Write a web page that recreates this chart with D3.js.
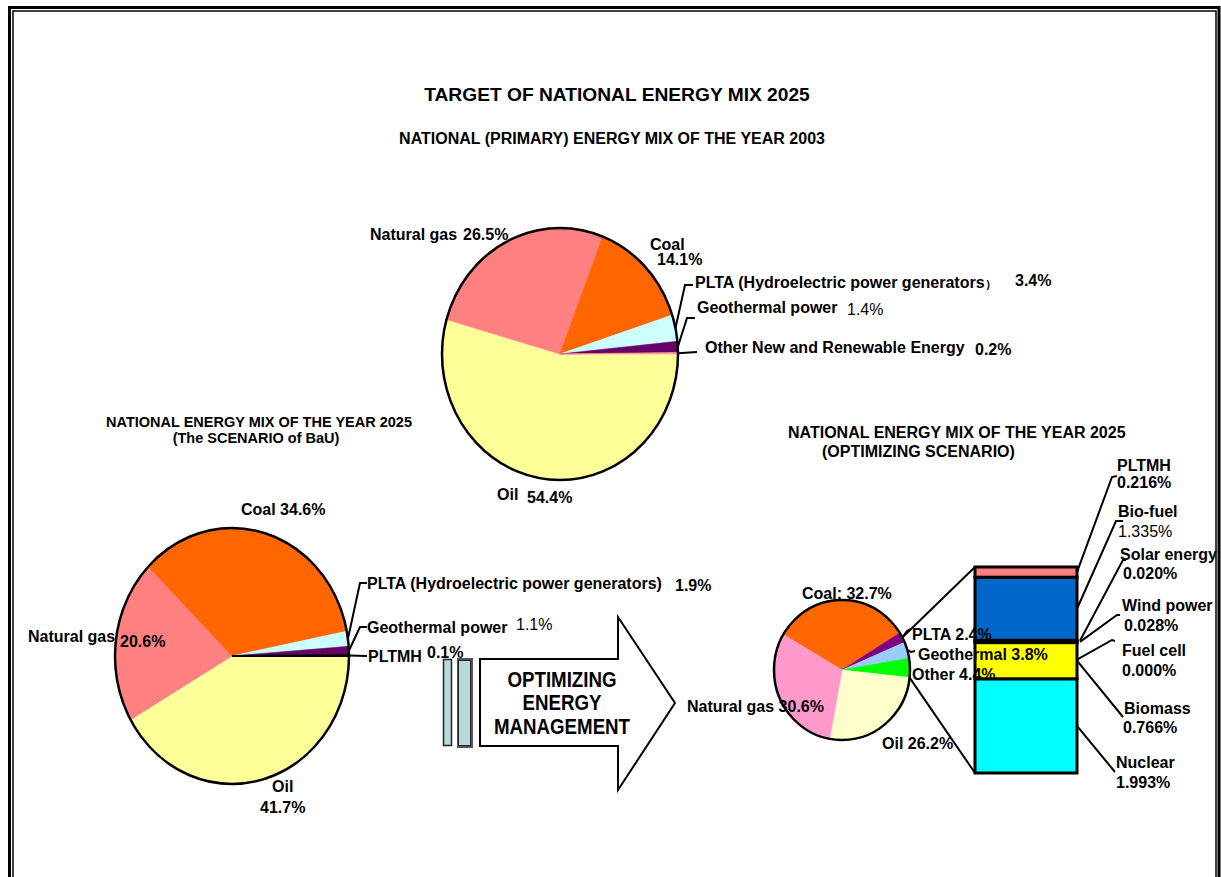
<!DOCTYPE html>
<html>
<head>
<meta charset="utf-8">
<script src="https://cdn.jsdelivr.net/npm/d3@7"></script>
<style>
body { margin: 0; background: #fff; }
text { font-family: "Liberation Sans", Arial, sans-serif; fill: #000; }
</style>
</head>
<body>
<script>
// ---- data ----
var mainTitle = "TARGET OF NATIONAL ENERGY MIX 2025";
var title2003 = ["NATIONAL (PRIMARY) ENERGY MIX OF THE YEAR 2003"];
var titleBaU = ["NATIONAL ENERGY MIX OF THE YEAR 2025", "(The SCENARIO of BaU)"];
var titleOpt = ["NATIONAL ENERGY MIX OF THE YEAR 2025", "(OPTIMIZING SCENARIO)"];
var arrowText = ["OPTIMIZING", "ENERGY", "MANAGEMENT"];

// 2003 mix, clockwise from 3 o'clock
var mix2003Names = ["Oil", "Natural gas", "Coal", "PLTA (Hydroelectric power generators)", "Geothermal power", "Other New and Renewable Energy"];
var mix2003Values = [54.4, 26.5, 14.1, 3.4, 1.4, 0.2];
var mix2003Colors = ["#ffff99", "#ff8080", "#ff6600", "#ccffff", "#660066", "#ff9999"];

// 2025 BaU
var bauNames = ["Oil", "Natural gas", "Coal", "PLTA (Hydroelectric power generators)", "Geothermal power", "PLTMH"];
var bauValues = [41.7, 20.6, 34.6, 1.9, 1.1, 0.1];
var bauColors = ["#ffff99", "#ff8080", "#ff6600", "#ccffff", "#660066", "#000000"];

// 2025 optimizing scenario
var optNames = ["Coal", "PLTA", "Geothermal", "Other", "Oil", "Natural gas"];
var optValues = [32.7, 2.4, 3.8, 4.4, 26.2, 30.6];
var optColors = ["#ff6600", "#800080", "#99ccff", "#00ff00", "#ffffcc", "#ff99cc"];

// breakdown of "Other", bottom to top
var otherNames = ["Nuclear", "Biomass", "Fuel cell", "Wind power", "Solar energy", "Bio-fuel", "PLTMH"];
var otherValues = [1.993, 0.766, 0.000, 0.028, 0.020, 1.335, 0.216];
var otherColors = ["#00ffff", "#ffff00", "#ffffff", "#ffffff", "#ffffff", "#0066cc", "#ff8080"];

// ---- drawing ----
var svg = d3.select("body").append("svg").attr("width", 1221).attr("height", 877);
var fmt1 = function (v) { return v.toFixed(1) + "%"; };
var fmt3 = function (v) { return v.toFixed(3) + "%"; };

function addText(x, y, str, o) {
    o = o || {};
    return svg.append("text")
        .attr("transform", "translate(" + x + "," + y + ")" + (o.sx ? " scale(" + o.sx + ",1)" : ""))
        .attr("text-anchor", o.anchor || "start")
        .style("font-size", (o.size || 16) + "px")
        .style("font-weight", o.normal ? "normal" : "bold")
        .text(str);
}

function leader(pts) {
    svg.append("path")
        .attr("d", d3.line()(pts))
        .attr("fill", "none")
        .attr("stroke", "#000")
        .attr("stroke-width", 2);
}

// frame (double border)
svg.append("path").attr("d", "M9.5,880 V7.5 H1219 V880")
    .attr("fill", "none").attr("stroke", "#000").attr("stroke-width", 3);
svg.append("path").attr("d", "M13,880 V11 H1216 V880")
    .attr("fill", "none").attr("stroke", "#000").attr("stroke-width", 1.5);

// titles
addText(617, 101, mainTitle, { anchor: "middle", size: 19.2 });
addText(612, 144, title2003[0], { anchor: "middle", size: 16 });
addText(259, 427, titleBaU[0], { anchor: "middle", size: 14.5 });
addText(256, 443, titleBaU[1], { anchor: "middle", size: 14.5 });
addText(788, 438, titleOpt[0], { size: 16 });
addText(822, 457, titleOpt[1], { size: 16 });

function drawPie(cfg) {
    var g = svg.append("g")
        .attr("transform", "translate(" + cfg.cx + "," + cfg.cy + ") scale(1," + (cfg.ry / cfg.rx) + ")");
    var arcs = d3.pie().sort(null)
        .startAngle(cfg.start).endAngle(cfg.start + 2 * Math.PI)(cfg.values);
    var arc = d3.arc().innerRadius(0).outerRadius(cfg.rx);
    g.selectAll("path.slice")
        .data(arcs)
        .enter()
        .append("path")
        .attr("class", "slice")
        .attr("d", arc)
        .attr("fill", function (d, i) { return cfg.colors[i]; })
        .attr("stroke", function (d, i) { return cfg.colors[i]; })
        .attr("stroke-width", function (d, i) { return cfg.colors[i] === "#000000" ? 2 : 0.6; })
        .attr("vector-effect", "non-scaling-stroke");
    g.append("circle")
        .attr("r", cfg.rx)
        .attr("fill", "none")
        .attr("stroke", "#000")
        .attr("stroke-width", 2.5)
        .attr("vector-effect", "non-scaling-stroke");
    cfg.arcs = arcs;
    cfg.edge = function (a) {
        return [cfg.cx + cfg.rx * Math.sin(a), cfg.cy - cfg.ry * Math.cos(a)];
    };
    cfg.mid = function (i) { return cfg.edge((arcs[i].startAngle + arcs[i].endAngle) / 2); };
    return cfg;
}

function pieLabels(cfg, names, values, layout) {
    layout.forEach(function (l, i) {
        if (l.line) leader([cfg.mid(i)].concat(l.line));
        if (l.sep) {
            addText(l.n[0], l.n[1], names[i] + l.sep + fmt1(values[i]));
            return;
        }
        if (l.smallParen) {
            var t = addText(l.n[0], l.n[1], names[i].slice(0, -1));
            t.append("tspan").style("font-size", "10px").attr("dx", 2).text(")");
        } else {
            addText(l.n[0], l.n[1], names[i]);
        }
        addText(l.v[0], l.v[1], fmt1(values[i]), { normal: l.normal });
    });
}

// 2003 pie
var pie2003 = drawPie({ cx: 560, cy: 354, rx: 118, ry: 126, start: Math.PI / 2,
    values: mix2003Values, colors: mix2003Colors });
pieLabels(pie2003, mix2003Names, mix2003Values, [
    { n: [497, 500], v: [527, 503] },
    { n: [370, 240], v: [463, 240] },
    { n: [650, 250], v: [657, 265] },
    { n: [695, 288], v: [1015, 286], smallParen: true, line: [[685, 285], [693, 285]] },
    { n: [697, 313], v: [847, 315], normal: true, line: [[687, 318], [695, 318]] },
    { n: [705, 353], v: [975, 355], line: [[697, 352]] }
]);

// BaU pie
var pieBaU = drawPie({ cx: 232, cy: 656, rx: 117, ry: 128, start: Math.PI / 2,
    values: bauValues, colors: bauColors });
pieLabels(pieBaU, bauNames, bauValues, [
    { n: [272, 792], v: [260, 813] },
    { n: [28, 642], v: [120, 647] },
    { n: [241, 515], sep: " " },
    { n: [367, 589], v: [675, 591], line: [[360, 583], [367, 583]] },
    { n: [367, 633], v: [516, 630], normal: true, line: [[360, 627], [367, 627]] },
    { n: [368, 662], v: [427, 658], line: [[367, 656]] }
]);

// small bars + arrow
var barFill = "#b9d8da";
svg.append("rect").attr("x", 443.5).attr("y", 659.5).attr("width", 8).attr("height", 86)
    .attr("fill", barFill).attr("stroke", "#222").attr("stroke-width", 1.5);
svg.append("rect").attr("x", 457).attr("y", 658).attr("width", 16).attr("height", 90)
    .attr("fill", "#555");
svg.append("rect").attr("x", 458.5).attr("y", 660.5).attr("width", 12).attr("height", 85)
    .attr("fill", barFill).attr("stroke", "#222").attr("stroke-width", 1);

svg.append("path")
    .attr("d", "M480,659 H618 V617 L675,703 L618,790 V746 H480 Z")
    .attr("fill", "#fff").attr("stroke", "#000").attr("stroke-width", 2);
[687, 710, 734].forEach(function (y, i) {
    addText(562, y, arrowText[i], { anchor: "middle", size: 21.5, sx: 0.87 });
});

// optimizing pie
var pieOpt = drawPie({ cx: 842, cy: 670, rx: 68, ry: 70, start: -59.5 * Math.PI / 180,
    values: optValues, colors: optColors });

// bar of "Other"
var barX = 975, barW = 102;
var yBar = d3.scaleLinear().domain([0, d3.sum(otherValues)]).range([773, 567]);
var stack = [], acc = 0;
otherValues.forEach(function (v) { stack.push([acc, acc + v]); acc += v; });

// series lines from pie to bar
leader([pieOpt.mid(1), [barX, yBar.range()[1]]]);
leader([pieOpt.edge(pieOpt.arcs[3].endAngle), [barX, yBar.range()[0]]]);

svg.selectAll("rect.other")
    .data(stack)
    .enter()
    .append("rect")
    .attr("class", "other")
    .attr("x", barX)
    .attr("width", barW)
    .attr("y", function (d) { return yBar(d[1]); })
    .attr("height", function (d) { return yBar(d[0]) - yBar(d[1]); })
    .attr("fill", function (d, i) { return otherColors[i]; })
    .attr("stroke", "#000")
    .attr("stroke-width", 3);

// bar labels
var barLayout = [
    { n: [1116, 768], v: [1116, 788], line: [[1115, 772]] },
    { n: [1124, 714], v: [1123, 733], line: [[1123, 717]] },
    { n: [1122, 656], v: [1122, 676], dy: 17, line: [[1112, 640], [1115, 641]] },
    { n: [1122, 611], v: [1124, 631], dx: 3, line: [[1117, 615], [1120, 615]] },
    { n: [1120, 560], v: [1123, 579], dx: 3, line: [[1123, 560], [1126, 560]] },
    { n: [1118, 517], v: [1118, 537], normal: true, line: [[1116, 521], [1123, 521]] },
    { n: [1117, 471], v: [1117, 488], line: [[1112, 477], [1117, 476]] }
];
barLayout.forEach(function (l, i) {
    var y0 = yBar((stack[i][0] + stack[i][1]) / 2) + (l.dy || 0);
    leader([[barX + barW + (l.dx || 0), y0]].concat(l.line));
    addText(l.n[0], l.n[1], otherNames[i]);
    addText(l.v[0], l.v[1], fmt3(otherValues[i]), { normal: l.normal });
});

// optimizing pie labels (drawn over the bar)
pieLabels(pieOpt, optNames, optValues, [
    { n: [802, 599], sep: ": " },
    { n: [912, 640], sep: " ", line: [[907, 631], [911, 629]] },
    { n: [918, 660], sep: " ", line: [[911, 652], [915, 651]] },
    { n: [912, 680], sep: " " },
    { n: [882, 749], sep: " " },
    { n: [687, 712], sep: " " }
]);
</script>
</body>
</html>
